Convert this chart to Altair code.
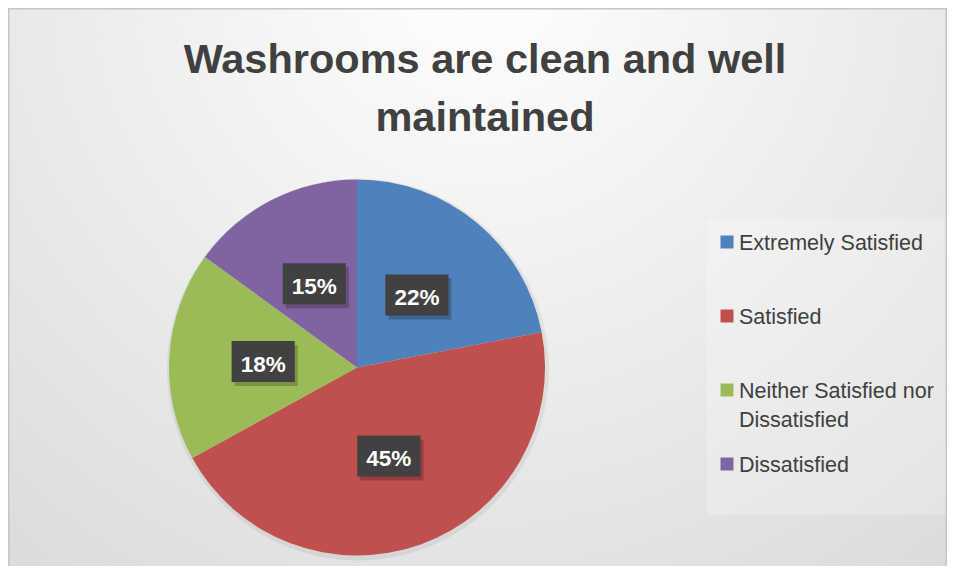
import altair as alt
import pandas as pd

# ---- data ----
categories = ["Extremely Satisfied", "Satisfied",
              "Neither Satisfied nor Dissatisfied", "Dissatisfied"]
legend_labels = ["Extremely Satisfied", "Satisfied",
                 "Neither Satisfied nor\nDissatisfied", "Dissatisfied"]
values = [22, 45, 18, 15]
colors = ["#4F81BD", "#C0504D", "#9BBB59", "#8064A2"]
title_text = "Washrooms are clean and well\nmaintained"

# ---- layout ----
W, H = 939, 558
CX, CY, R = 349, 359.5, 188
LR = 94

df = pd.DataFrame({"category": categories, "legend": legend_labels,
                   "value": values, "idx": list(range(len(values)))})
one = pd.DataFrame({"k": [0]})

color_scale = alt.Scale(domain=categories, range=colors)

bg = alt.Chart(one).mark_rect(
    fill=alt.RadialGradient(
        gradient="radial",
        stops=[alt.GradientStop(color="#ffffff", offset=0),
               alt.GradientStop(color="#d3d3d3", offset=1)],
        x1=0.5, y1=0.15, r1=0, x2=0.5, y2=0.15, r2=1),
    stroke="#c6c6c6", strokeWidth=1.5
).encode(x=alt.value(0.75), x2=alt.value(W - 0.75),
         y=alt.value(0.75), y2=alt.value(H + 20))

legbox = alt.Chart(one).mark_rect(fill="#ffffff", fillOpacity=0.22).encode(
    x=alt.value(699), x2=alt.value(W - 1.5), y=alt.value(211), y2=alt.value(507))

title = alt.Chart(one).mark_text(
    text=title_text, lineBreak="\n", font="Liberation Sans", fontWeight="bold",
    fontSize=41.5, color="#404040", align="center", baseline="alphabetic",
    lineHeight=58
).encode(x=alt.value(477), y=alt.value(65))

pie_shadow = alt.Chart(one).mark_arc(
    outerRadius=R + 3, theta=0, theta2=6.2832, fill="#000000", fillOpacity=0.06
).encode(x=alt.value(CX + 1), y=alt.value(CY + 2))

pie = alt.Chart(df).mark_arc(outerRadius=R).encode(
    theta=alt.Theta("value:Q", stack=True),
    color=alt.Color("category:N", scale=color_scale, legend=None),
    order=alt.Order("idx:Q"),
    x=alt.value(CX), y=alt.value(CY),
)

lab = alt.Chart(df).transform_joinaggregate(
    total="sum(value)"
).transform_window(
    cum="sum(value)", sort=[alt.SortField("idx")], frame=[None, 0]
).transform_calculate(
    ang="2*PI*(datum.cum - datum.value/2)/datum.total"
).transform_calculate(
    lx=f"{CX} + {LR}*sin(datum.ang)",
    ly=f"{CY} - {LR}*cos(datum.ang)",
    lab="format(datum.value/datum.total, '.0%')",
)
pos = dict(x=alt.X("lx:Q", scale=None, axis=None),
           y=alt.Y("ly:Q", scale=None, axis=None))
box_path = "M-1.54,-1H1.54V1H-1.54Z"

box_shadow = lab.mark_point(shape=box_path, size=1681, filled=True,
                            color="#000000", opacity=0.22,
                            xOffset=3, yOffset=4).encode(**pos)
box = lab.mark_point(shape=box_path, size=1681, filled=True,
                     color="#414141", opacity=1).encode(**pos)
txt = lab.mark_text(font="Liberation Sans", fontWeight="bold", fontSize=22.5,
                    color="#ffffff", align="center", baseline="middle",
                    dy=3).encode(text="lab:N", **pos)

leg_y = alt.Y("category:N", axis=None,
              scale=alt.Scale(type="point", domain=categories,
                              range=[234, 456], padding=0))
leg_sq = alt.Chart(df).mark_point(shape="square", size=169, filled=True,
                                  opacity=1).encode(
    x=alt.value(719), y=leg_y,
    color=alt.Color("category:N", scale=color_scale, legend=None))
leg_tx = alt.Chart(df).mark_text(
    align="left", baseline="alphabetic", dy=7.5, font="Liberation Sans",
    fontSize=21.5, color="#404040", lineBreak="\n", lineHeight=29
).encode(x=alt.value(731), y=leg_y, text="legend:N")

chart = alt.layer(
    bg, legbox, title, pie_shadow, pie, box_shadow, box, txt, leg_sq, leg_tx
).resolve_scale(
    x="independent", y="independent"
).properties(
    width=W, height=H, padding=0,
    autosize=alt.AutoSizeParams(type="none"),
).configure_view(strokeWidth=0)

chart.save("out.html", embed_options={"renderer": "svg", "actions": False})
